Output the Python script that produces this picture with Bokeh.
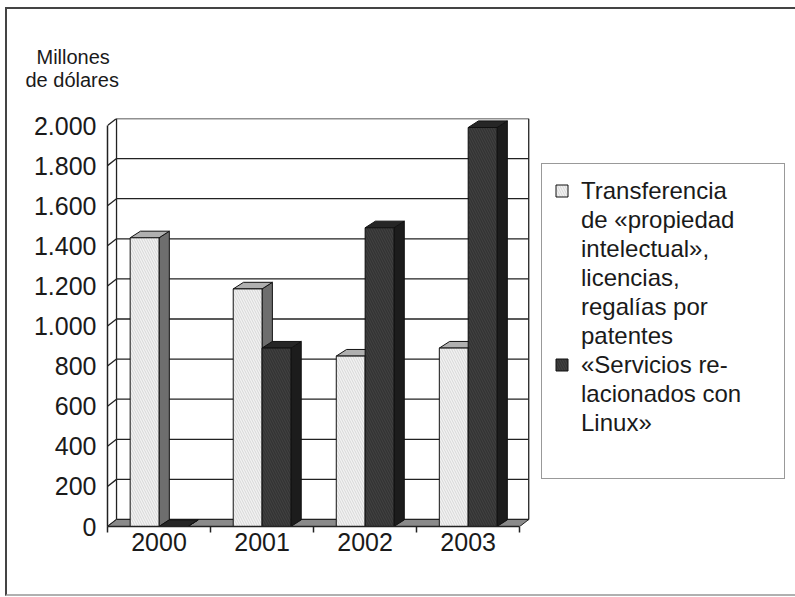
from bokeh.plotting import figure
from bokeh.models import Range1d, FixedTicker, Legend, LegendItem, Title, ColumnDataSource
from bokeh.embed import file_html
from bokeh.resources import INLINE

# ---- data ----
years = ["2000", "2001", "2002", "2003"]
ip_licensing = [1440, 1185, 850, 890]
linux_services = [0, 890, 1490, 1990]
y_ticks = [0, 200, 400, 600, 800, 1000, 1200, 1400, 1600, 1800, 2000]
y_tick_labels = ["0", "200", "400", "600", "800", "1.000", "1.200", "1.400",
                 "1.600", "1.800", "2.000"]
series_labels = [
    ["Transferencia", "de «propiedad", "intelectual»,", "licencias,", "regalías por",
     "patentes"],
    ["«Servicios re-", "lacionados con", "Linux»"],
]
y_axis_title = ["Millones", "de dólares"]

FONT = "Liberation Sans"
PX = 102.75              # pixels per category
WX, WY = 0.0876, 35      # wall depth offset (data units)
BX, BY = 0.10, 33        # bar depth offset
BW = 0.28                # bar width

p = figure(width=790, height=589, output_backend="svg", toolbar_location=None,
           x_range=Range1d(-0.5, -0.5 + 683 / PX), y_range=Range1d(0, 2000 + WY),
           min_border_left=100, min_border_right=5, min_border_top=109,
           min_border_bottom=72,
           styles={"border-left": "2px solid #444", "border-top": "2px solid #444",
                   "border-bottom": "2px solid #b0b0b0", "margin": "7px 0 0 5px"})
p.outline_line_color = None
p.xgrid.visible = False
p.ygrid.visible = False

# axes
p.xaxis.ticker = FixedTicker(ticks=[0, 1, 2, 3], minor_ticks=[-0.5, 0.5, 1.5, 2.5, 3.5])
p.xaxis.major_label_overrides = {i: y for i, y in enumerate(years)}
p.xaxis.major_tick_out = 0
p.xaxis.major_tick_in = 0
p.xaxis.minor_tick_out = 6
p.xaxis.minor_tick_in = 0
p.xaxis.minor_tick_line_color = "#222"
p.xaxis.minor_tick_line_width = 1.5
p.xaxis.bounds = (-0.5, 3.5)
p.xaxis.major_label_standoff = 0
p.yaxis.ticker = FixedTicker(ticks=y_ticks)
p.yaxis.major_label_overrides = {t: l for t, l in zip(y_ticks, y_tick_labels)}
p.yaxis.major_tick_out = 5
p.yaxis.major_tick_in = 0
p.yaxis.minor_tick_line_color = None
p.yaxis.bounds = (0, 2000)
p.yaxis.major_label_standoff = 6
for ax in (p.xaxis, p.yaxis):
    ax.axis_line_color = "#222"
    ax.axis_line_width = 1.5
    ax.major_tick_line_color = "#222" if ax is p.yaxis else None
    ax.major_tick_line_width = 1.5
    ax.major_label_text_font = FONT
    ax.major_label_text_font_size = "25px"
    ax.major_label_text_color = "#1a1a1a"

# walls and grid
n = len(y_ticks)
p.segment(x0=[-0.5] * n, y0=y_ticks, x1=[-0.5 + WX] * n, y1=[t + WY for t in y_ticks],
          line_color="#222", line_width=1.3)
p.segment(x0=[-0.5 + WX] * n, y0=[t + WY for t in y_ticks], x1=[3.5 + WX] * n,
          y1=[t + WY for t in y_ticks], line_color="#222", line_width=1.3)
p.segment(x0=[-0.5 + WX, 3.5 + WX], y0=[WY, WY], x1=[-0.5 + WX, 3.5 + WX],
          y1=[2000 + WY, 2000 + WY], line_color="#222", line_width=1.3)
p.patch([-0.5, 3.5, 3.5 + WX, -0.5 + WX], [0, 0, WY, WY], fill_color="#8a8a8a",
        line_color="#222", line_width=1)


def bar_faces(vals, offset, front, side, top, hatch):
    lefts = [i + offset for i in range(len(vals))]
    rights = [l + BW for l in lefts]
    side_xs = [[r, r + BX, r + BX, r] for r in rights]
    side_ys = [[0, BY, v + BY, v] for v in vals]
    top_xs = [[l, l + BX, r + BX, r] for l, r in zip(lefts, rights)]
    top_ys = [[v, v + BY, v + BY, v] for v in vals]
    p.patches(side_xs, side_ys, fill_color=side, line_color="#111", line_width=1)
    p.patches(top_xs, top_ys, fill_color=top, line_color="#111", line_width=1)
    src = ColumnDataSource(dict(left=lefts, right=rights, bottom=[0] * len(vals), top=vals))
    return p.quad(left="left", right="right", bottom="bottom", top="top", source=src,
                  fill_color=front, line_color="#111", line_width=1,
                  hatch_pattern="\\", hatch_color=hatch, hatch_weight=0.6, hatch_scale=5)


r_light = bar_faces(ip_licensing, -BW, "#f2f2f2", "#6e6e6e", "#b0b0b0", "#c4c4c4")
r_dark = bar_faces(linux_services, 0.0, "#333333", "#1c1c1c", "#262626", "#4e4e4e")

# invisible glyph for the continuation lines of the wrapped legend labels
r_blank = p.quad(left=[], right=[], bottom=[], top=[], fill_alpha=0, line_alpha=0)

items = []
for lines, rend in zip(series_labels, [r_light, r_dark]):
    items.append(LegendItem(label=lines[0], renderers=[rend]))
    for ln in lines[1:]:
        items.append(LegendItem(label=ln, renderers=[r_blank]))
items.append(LegendItem(label=" ", renderers=[r_blank]))

legend = Legend(items=items, location=(434, 47), label_text_font=FONT,
                label_text_font_size="24px", label_text_color="#1a1a1a",
                glyph_width=15, glyph_height=15, label_standoff=12, padding=12,
                spacing=0, label_height=29, label_width=191, border_line_color="#333",
                border_line_width=1.5, background_fill_alpha=1)
p.add_layout(legend)

p.add_layout(Title(text=y_axis_title[1], align="left", offset=-82, standoff=56,
                   text_font=FONT, text_font_size="20px", text_font_style="normal",
                   text_color="#1a1a1a"), "above")
p.add_layout(Title(text=y_axis_title[0], align="left", offset=-71, standoff=-58,
                   text_font=FONT, text_font_size="20px", text_font_style="normal",
                   text_color="#1a1a1a"), "above")

open("out.html", "w").write(file_html(p, INLINE))
